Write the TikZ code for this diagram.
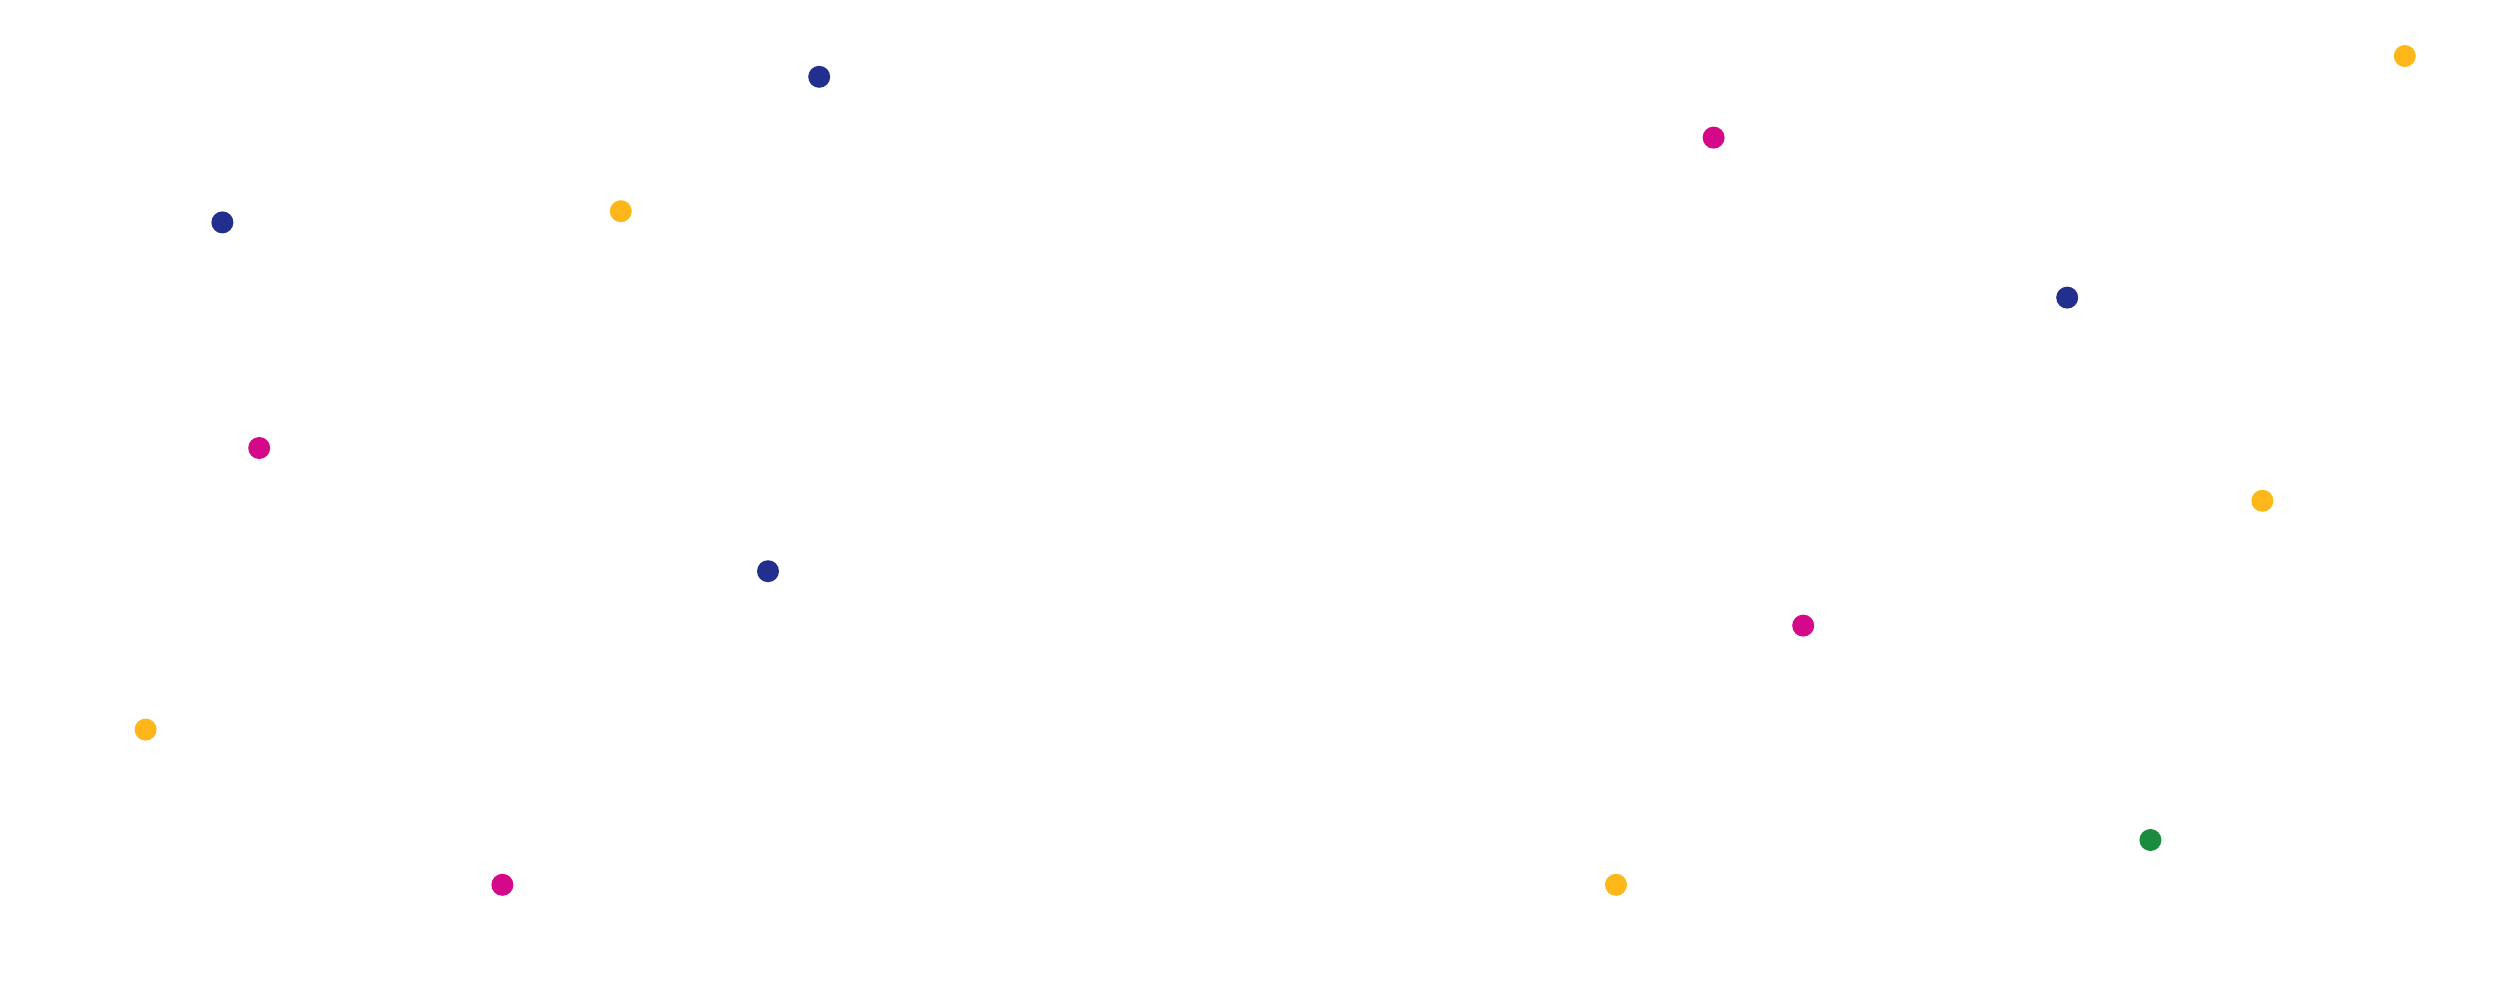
\documentclass[tikz,border=0pt]{standalone}
\definecolor{cnavy}{HTML}{232F8E}
\definecolor{cyel}{HTML}{FDB71A}
\definecolor{cmag}{HTML}{D6088A}
\definecolor{cgrn}{HTML}{1A8B3F}
\tikzset{dot/.style={circle,inner sep=0pt,minimum size=0.22cm,fill=#1}}
\begin{document}
\begin{tikzpicture}[x=0.016cm,y=-0.016cm]
\useasboundingbox (0,0) rectangle (1562.5,625);
\node[dot=cnavy] (d1) at (512,48) {};
\node[dot=cnavy] (d2) at (139,139) {};
\node[dot=cyel] (d3) at (388,132) {};
\node[dot=cmag] (d4) at (162,280) {};
\node[dot=cnavy] (d5) at (480,357) {};
\node[dot=cyel] (d6) at (91,456) {};
\node[dot=cmag] (d7) at (314,553) {};
\node[dot=cmag] (d8) at (1071,86) {};
\node[dot=cyel] (d9) at (1503,35) {};
\node[dot=cnavy] (d10) at (1292,186) {};
\node[dot=cyel] (d11) at (1414,313) {};
\node[dot=cmag] (d12) at (1127,391) {};
\node[dot=cgrn] (d13) at (1344,525) {};
\node[dot=cyel] (d14) at (1010,553) {};
\end{tikzpicture}
\end{document}
